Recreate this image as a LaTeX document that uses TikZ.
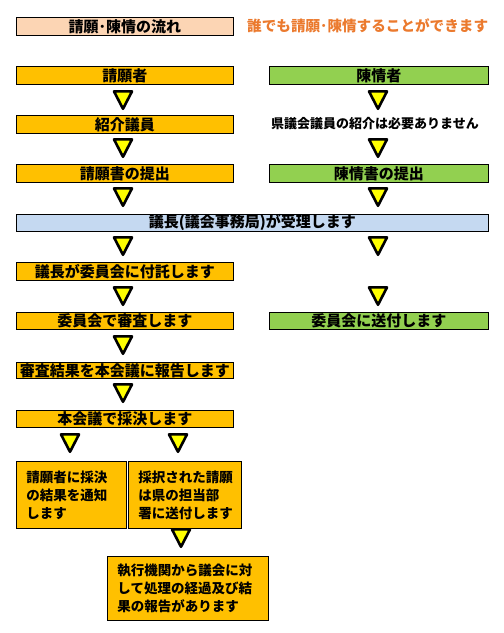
\documentclass[tikz,border=0pt]{standalone}
\usepackage{fontspec}
\newfontfamily\cjk{Noto Sans CJK JP}
\definecolor{peach}{HTML}{FCD5B4}
\definecolor{orng}{HTML}{FFC000}
\definecolor{grn}{HTML}{92D050}
\definecolor{lblue}{HTML}{C5D9F1}
\definecolor{otext}{HTML}{EB7A2E}
\definecolor{yel}{HTML}{FFFF00}
\tikzset{
  box/.style={draw=black, line width=0.9pt, inner sep=0pt, anchor=north west,
    font=\cjk\bfseries\fontsize{15}{15}\selectfont},
  mbox/.style={draw=black, line width=0.9pt, inner xsep=10pt, inner ysep=0pt, anchor=north west,
    align=left, font=\cjk\bfseries\fontsize{13.5}{18}\selectfont},
  downtri/.pic={\draw[line width=2.6pt, line join=round, fill=yel] (-9,1.4) -- (9,1.4) -- (0,18.8) -- cycle;}
}
\begin{document}
\begin{tikzpicture}[x=1pt,y=-1pt]
\useasboundingbox (0,0) rectangle (504,633);
% title
\node[box, fill=peach, minimum width=217pt, minimum height=18pt] (title) at (16,17) {請願･陳情の流れ};
\node[anchor=west, inner sep=0pt, text=otext, font=\cjk\bfseries\fontsize{14.6}{14.6}\selectfont] (sub) at (247,26) {誰でも請願･陳情することができます};
% left column
\node[box, fill=orng, minimum width=217pt, minimum height=18pt] (l1) at (16,66) {請願者};
\node[box, fill=orng, minimum width=217pt, minimum height=18pt] (l2) at (16,115) {紹介議員};
\node[box, fill=orng, minimum width=217pt, minimum height=18pt] (l3) at (16,164) {請願書の提出};
% right column
\node[box, fill=grn, minimum width=219pt, minimum height=18pt] (r1) at (269,66) {陳情者};
\node[anchor=center, inner sep=0pt, font=\cjk\bfseries\fontsize{13}{13}\selectfont] (r2) at (375,124) {県議会議員の紹介は必要ありません};
\node[box, fill=grn, minimum width=219pt, minimum height=18pt] (r3) at (269,164) {陳情書の提出};
% common
\node[box, fill=lblue, minimum width=472pt, minimum height=17pt] (c1) at (16,214) {議長(議会事務局)が受理します};
\node[box, fill=orng, minimum width=217pt, minimum height=18pt] (l4) at (16,262) {議長が委員会に付託します};
\node[box, fill=orng, minimum width=217pt, minimum height=17pt] (l5) at (16,312) {委員会で審査します};
\node[box, fill=grn, minimum width=219pt, minimum height=17pt] (r5) at (269,312) {委員会に送付します};
\node[box, fill=orng, minimum width=217pt, minimum height=16pt] (l6) at (16,362) {審査結果を本会議に報告します};
\node[box, fill=orng, minimum width=217pt, minimum height=17pt] (l7) at (16,410) {本会議で採決します};
\node[mbox, fill=orng, text width=90pt, minimum height=67pt] (l8) at (16,461) {請願者に採決\\の結果を通知\\します};
\node[mbox, fill=orng, text width=93pt, minimum height=67pt] (l9) at (128,461) {採択された請願\\は県の担当部\\署に送付します};
\node[mbox, fill=orng, text width=141pt, minimum height=64pt] (l10) at (107,556) {執行機関から議会に対\\して処理の経過及び結\\果の報告があります};
% triangles
\pic at (123,90) {downtri};
\pic at (123,138) {downtri};
\pic at (123,187) {downtri};
\pic at (123,236) {downtri};
\pic at (123,286) {downtri};
\pic at (123,335) {downtri};
\pic at (123,383) {downtri};
\pic at (378,90) {downtri};
\pic at (378,138) {downtri};
\pic at (378,187) {downtri};
\pic at (378,236) {downtri};
\pic at (378,286) {downtri};
\pic at (70,433) {downtri};
\pic at (178,433) {downtri};
\pic at (181,528) {downtri};
\end{tikzpicture}
\end{document}
